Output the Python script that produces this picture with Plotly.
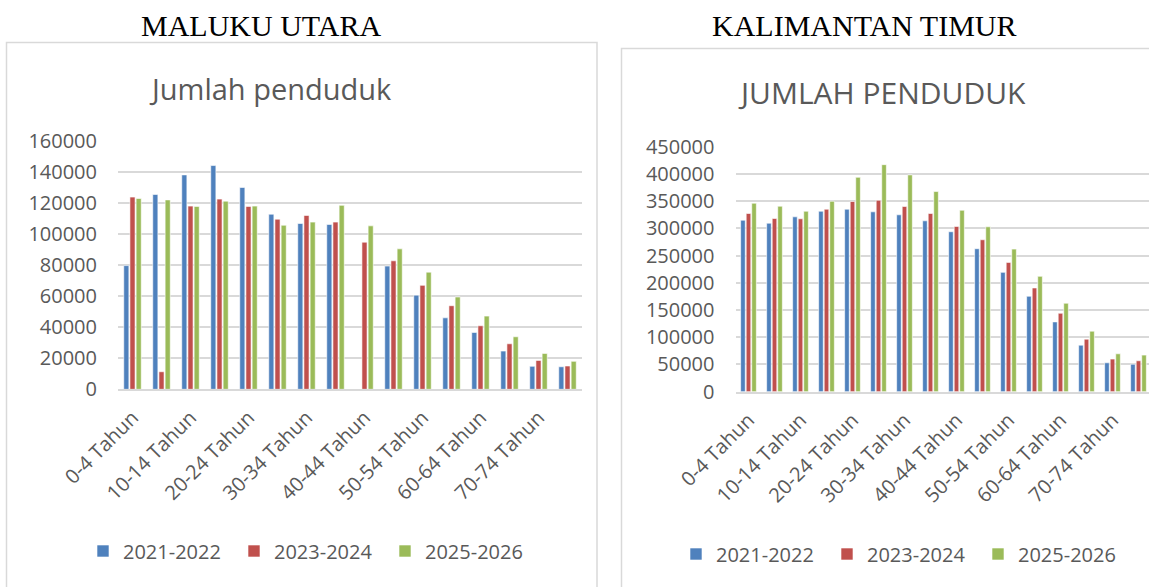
import plotly.graph_objects as go

W, H = 1149, 587

age_groups = ["0-4 Tahun", "5-9 Tahun", "10-14 Tahun", "15-19 Tahun", "20-24 Tahun",
              "25-29 Tahun", "30-34 Tahun", "35-39 Tahun", "40-44 Tahun", "45-49 Tahun",
              "50-54 Tahun", "55-59 Tahun", "60-64 Tahun", "65-69 Tahun", "70-74 Tahun",
              "75+ Tahun"]
series_names = ["2021-2022", "2023-2024", "2025-2026"]

# MALUKU UTARA
malut_2021 = [79600, 125400, 138000, 144000, 129900, 112700, 106700, 106100,
              0, 79300, 60600, 46000, 36600, 24600, 14800, 14500]
malut_2023 = [123700, 11300, 117900, 122400, 117700, 109500, 111900, 107600,
              94700, 82700, 66900, 53800, 40900, 29300, 18600, 15000]
malut_2025 = [122800, 121900, 117700, 121100, 117900, 105600, 107600, 118400,
              105200, 90400, 75400, 59400, 47100, 33800, 23100, 18000]

# KALIMANTAN TIMUR
kaltim_2021 = [315000, 309500, 321200, 331500, 335200, 330400, 324900, 313900,
               293800, 262600, 219200, 175300, 128200, 85500, 53100, 50500]
kaltim_2023 = [327300, 318100, 317600, 335200, 349300, 351600, 340100, 327300,
               303500, 279100, 237500, 190500, 144100, 96500, 59900, 56800]
kaltim_2025 = [346200, 340700, 331500, 349800, 393800, 417000, 398200, 367600,
               333300, 302900, 261900, 211900, 162500, 111200, 69600, 67200]

colors = ["#4F81BD", "#C0504D", "#9BBB59"]
malut_ticks = [0, 20000, 40000, 60000, 80000, 100000, 120000, 140000, 160000]
kaltim_ticks = [0, 50000, 100000, 150000, 200000, 250000, 300000, 350000, 400000, 450000]
xtick_labels = age_groups[::2]

FONT = "Open Sans"
GREY = "#595959"
GRID = "#D9D9D9"

def px_x(p):
    return p / W

def px_y(p):
    return 1 - p / H

fig = go.Figure()

for name, vals, c in zip(series_names, [malut_2021, malut_2023, malut_2025], colors):
    fig.add_trace(go.Bar(x=age_groups, y=vals, name=name, marker_color=c,
                         marker_line=dict(color="white", width=0.6),
                         xaxis="x", yaxis="y", legend="legend", offsetgroup=name + "a"))
for name, vals, c in zip(series_names, [kaltim_2021, kaltim_2023, kaltim_2025], colors):
    fig.add_trace(go.Bar(x=age_groups, y=vals, name=name, marker_color=c,
                         marker_line=dict(color="white", width=0.6),
                         xaxis="x2", yaxis="y2", legend="legend2", offsetgroup=name + "b"))

axis_common = dict(showgrid=False, zeroline=False, showline=True, linecolor=GRID, linewidth=1.5,
                   tickmode="array", tickvals=xtick_labels, tickangle=-45,
                   tickfont=dict(family=FONT, size=20, color=GREY), automargin=False,
                   ticks="", ticklabelstandoff=7)
yaxis_common = dict(showgrid=True, gridcolor=GRID, gridwidth=1.5, zeroline=False, showline=False,
                    tickfont=dict(family=FONT, size=20, color=GREY), automargin=False,
                    tickmode="array", ticks="", ticklabelstandoff=20, tickformat="d")

legend_common = dict(orientation="h", yanchor="middle", xanchor="left", entrywidth=106,
                     font=dict(family=FONT, size=20, color=GREY), bgcolor="rgba(0,0,0,0)")

fig.update_layout(
    width=W, height=H,
    margin=dict(l=0, r=0, t=0, b=0),
    paper_bgcolor="white", plot_bgcolor="white",
    barmode="group", bargap=0.36, bargroupgap=0.17,
    xaxis=dict(domain=[px_x(118), px_x(582)], anchor="y", range=[-0.5, 15.5],
               type="category", categoryarray=age_groups, **axis_common),
    yaxis=dict(domain=[px_y(389.3), px_y(140.7)], anchor="x", range=[0, 160000],
               tickvals=malut_ticks, **yaxis_common),
    xaxis2=dict(domain=[px_x(735.5), 1.0], anchor="y2", range=[-0.5, 15.5 - 2.5 / 26],
                type="category", categoryarray=age_groups, **axis_common),
    yaxis2=dict(domain=[px_y(391.7), px_y(146.7)], anchor="x2", range=[0, 450000],
                tickvals=kaltim_ticks, **yaxis_common),
    legend=dict(x=px_x(83), y=px_y(551), **legend_common),
    legend2=dict(x=px_x(676), y=px_y(554), **legend_common),
    showlegend=True,
)

# Chart frames
fig.add_shape(type="rect", xref="paper", yref="paper",
              x0=px_x(6.5), x1=px_x(597), y0=px_y(600), y1=px_y(42.5),
              line=dict(color=GRID, width=1.5), layer="below")
fig.add_shape(type="rect", xref="paper", yref="paper",
              x0=px_x(621.5), x1=px_x(1160), y0=px_y(600), y1=px_y(48.5),
              line=dict(color=GRID, width=1.5), layer="below")

annos = [
    dict(text="MALUKU UTARA", x=px_x(261), y=px_y(25), font=dict(family="Liberation Serif", size=30, color="black")),
    dict(text="KALIMANTAN TIMUR", x=px_x(864), y=px_y(25), font=dict(family="Liberation Serif", size=30, color="black")),
    dict(text="Jumlah penduduk", x=px_x(270), y=px_y(88), font=dict(family=FONT, size=29, color=GREY)),
    dict(text="JUMLAH PENDUDUK", x=px_x(882), y=px_y(92), font=dict(family=FONT, size=30, color=GREY)),
]
for a in annos:
    fig.add_annotation(xref="paper", yref="paper", showarrow=False,
                       xanchor="center", yanchor="middle", **a)

fig.write_html("out.html", config={"displayModeBar": False},
               post_script="document.body.style.margin='0';document.body.style.overflow='hidden';")
